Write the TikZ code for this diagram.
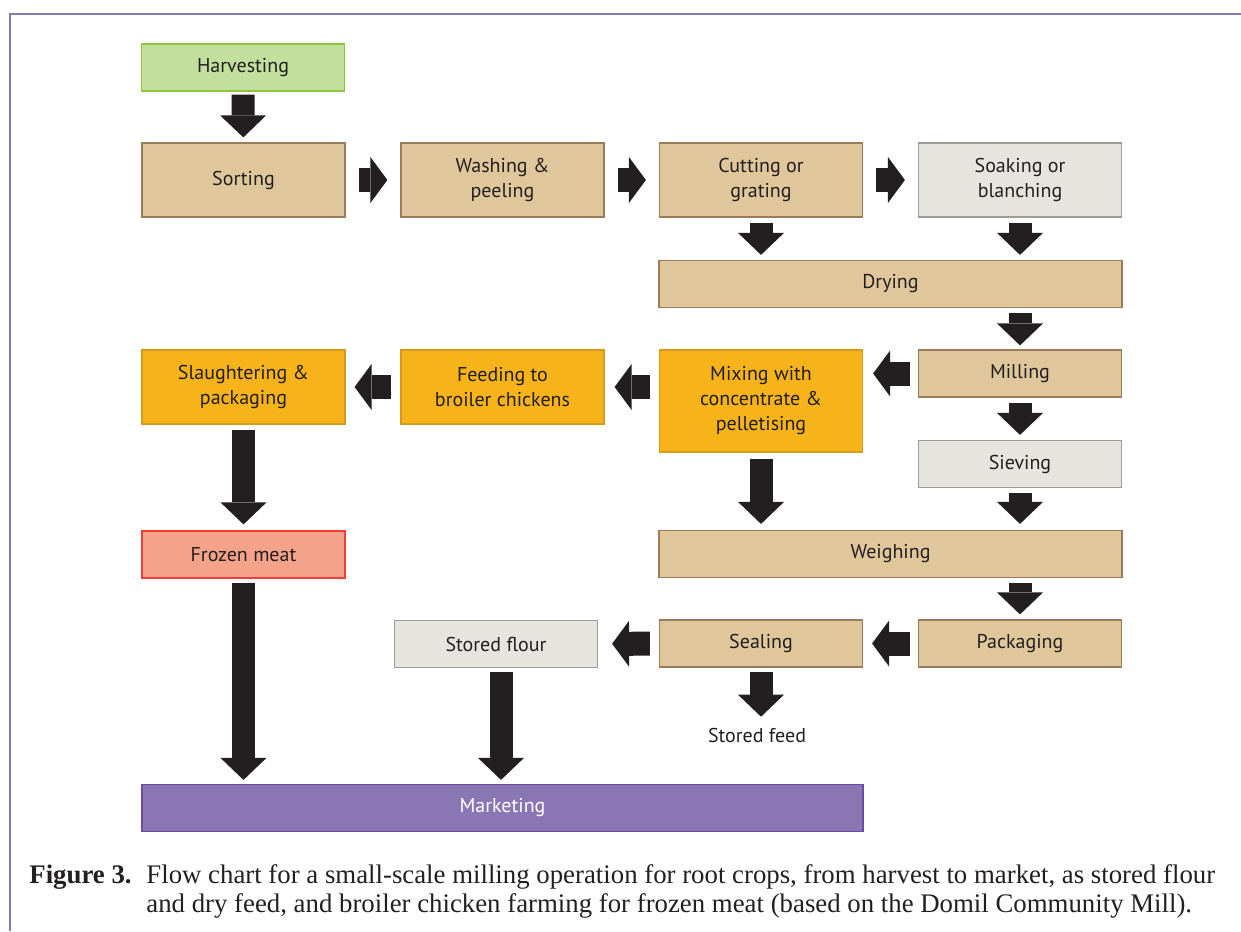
\documentclass[tikz,border=0pt]{standalone}
\usepackage{fontspec}
\setmainfont{Liberation Serif}
\newfontfamily\boxfont{PT Sans}
\usetikzlibrary{arrows.meta}

\definecolor{txt}{HTML}{231F20}
\definecolor{arr}{HTML}{231F20}
\definecolor{greenfill}{HTML}{C2DF9E}
\definecolor{greenline}{HTML}{8CC63F}
\definecolor{tanfill}{HTML}{DFC79B}
\definecolor{tanline}{HTML}{9B7B5B}
\definecolor{grayfill}{HTML}{E6E4DF}
\definecolor{grayline}{HTML}{A09C98}
\definecolor{orangefill}{HTML}{F7B31A}
\definecolor{orangeline}{HTML}{D49A1A}
\definecolor{meatfill}{HTML}{F5A28A}
\definecolor{meatline}{HTML}{EE4036}
\definecolor{markfill}{HTML}{8B76B5}
\definecolor{markline}{HTML}{6A4D9E}

\begin{document}
\begin{tikzpicture}[x=0.5pt,y=-0.5pt,
    box/.style={draw, line width=0.6pt, minimum width=101.5pt, minimum height=23.5pt,
      inner sep=0pt, align=center, text=txt, font=\boxfont\fontsize{10}{12.5}\selectfont},
    tanbox/.style={box, fill=tanfill, draw=tanline},
    graybox/.style={box, fill=grayfill, draw=grayline},
    orangebox/.style={box, fill=orangefill, draw=orangeline},
    tall/.style={minimum height=37pt},
    wide/.style={minimum width=231.5pt},
    down/.style={draw=arr, line width=11.5pt, -{Triangle[length=11pt,width=23pt,line width=0pt]}},
    side/.style={draw=arr, line width=12pt, -{Triangle[length=8.5pt,width=23pt,line width=0pt]}}]
    \useasboundingbox (0,0) rectangle (1241,931);
    % Moldura
    \draw[markfill, line width=1pt] (10,931) -- (10,14) -- (1241,14);
    % Linha de cima
    \node[box, fill=greenfill, draw=greenline] (harv) at (243,67.5) {Harvesting};
    \node[tanbox, tall] (sort) at (243.5,180) {Sorting};
    \node[tanbox, tall] (wash) at (502.5,180) {Washing \&\\peeling};
    \node[tanbox, tall] (cut) at (761,180) {Cutting or\\grating};
    \node[graybox, tall] (soak) at (1020,180) {Soaking or\\blanching};
    \node[tanbox, wide] (dry) at (890.5,284) {Drying};
    % Coluna da direita
    \node[tanbox] (mill) at (1020,373.5) {Milling};
    \node[graybox] (siev) at (1020,464) {Sieving};
    \node[tanbox, wide] (weigh) at (890.5,554) {Weighing};
    \node[tanbox] (pack) at (1020,643.5) {Packaging};
    \node[tanbox] (seal) at (761,643.5) {Sealing};
    \node[graybox] (flour) at (496,644) {Stored flour};
    \node[text=txt, font=\boxfont\fontsize{10}{12.5}\selectfont] (sfeed) at (757,735) {Stored feed};
    % Ramo da ração
    \node[orangebox, minimum height=51pt] (mix) at (761,401) {Mixing with\\concentrate \&\\pelletising};
    \node[orangebox, tall] (feed) at (502.5,387) {Feeding to\\broiler chickens};
    \node[orangebox, tall] (slau) at (243.5,387) {Slaughtering \&\\packaging};
    \node[box, fill=meatfill, draw=meatline] (meat) at (243.5,554.5) {Frozen meat};
    \node[box, fill=markfill, draw=markline, text=white, minimum width=360.5pt] (mark) at (502.5,808) {Marketing};
    % Setas
    \draw[down, shorten <=1.5pt, shorten >=2.5pt] (harv) -- (sort);
    \draw[side, shorten <=6.5pt, shorten >=6.5pt] (sort) -- (wash);
    \draw[side, shorten <=6.5pt, shorten >=6.5pt] (wash) -- (cut);
    \draw[side, shorten <=6.5pt, shorten >=6.5pt] (cut) -- (soak);
    \draw[down, shorten <=2.5pt, shorten >=2.5pt] (cut) -- (cut |- dry.north);
    \draw[down, shorten <=2.5pt, shorten >=2.5pt] (soak) -- (soak |- dry.north);
    \draw[down, shorten <=2.5pt, shorten >=2pt] (mill |- dry.south) -- (mill);
    \draw[side, shorten <=4pt, shorten >=5pt] (mill) -- (mill -| mix.east);
    \draw[side, shorten <=4.5pt, shorten >=5pt] (mix.west |- feed) -- (feed);
    \draw[side, shorten <=4.5pt, shorten >=4.5pt] (feed) -- (slau);
    \draw[down, shorten <=2.5pt, shorten >=3pt] (slau) -- (meat);
    \draw[down, shorten <=2pt, shorten >=2pt] (meat) -- (meat |- mark.north);
    \draw[down, shorten <=2.5pt, shorten >=2.5pt] (mill) -- (siev);
    \draw[down, shorten <=2.5pt, shorten >=3pt] (siev) -- (siev |- weigh.north);
    \draw[down, shorten <=3pt, shorten >=3pt] (mix) -- (mix |- weigh.north);
    \draw[down, shorten <=2.5pt, shorten >=2.5pt] (pack |- weigh.south) -- (pack);
    \draw[side, shorten <=4pt, shorten >=4.5pt] (pack) -- (seal);
    \draw[side, shorten <=4.5pt, shorten >=7pt] (seal) -- (flour);
    \draw[down, shorten <=2pt, shorten >=2pt] (seal) -- (seal |- sfeed.north);
    \draw[down, shorten <=2pt, shorten >=2pt] (flour.south -| 501,0) -- (mark.north -| 501,0);
    % Legenda
    \node[anchor=base west, inner sep=0pt, text=txt, font=\fontsize{13.4}{14.5}\selectfont\bfseries] (fig) at (29,883) {Figure 3.};
    \node[anchor=base west, inner sep=0pt, text=txt, align=left, font=\fontsize{13.4}{14.5}\selectfont] (cap) at (146,912)
      {Flow chart for a small-scale milling operation for root crops, from harvest to market, as stored flour\\
       and dry feed, and broiler chicken farming for frozen meat (based on the Domil Community Mill).};
\end{tikzpicture}
\end{document}
